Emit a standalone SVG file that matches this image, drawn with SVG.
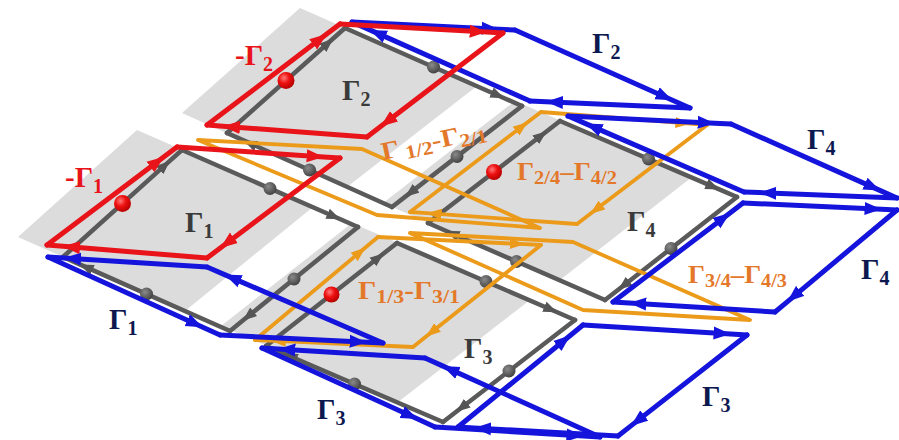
<svg xmlns="http://www.w3.org/2000/svg" width="899" height="440" viewBox="0 0 899 440">
<defs>
<style>
.bg{fill:#dcdcdc;stroke:none}
.g{stroke:#5a5a5a;stroke-width:4.5;fill:none;stroke-linecap:round;marker-mid:url(#ag)}
.r{stroke:#e8141a;stroke-width:5;fill:none;stroke-linecap:round;marker-mid:url(#ar)}
.b{stroke:#1414dc;stroke-width:5;fill:none;stroke-linecap:round;marker-mid:url(#ab)}
.o{stroke:#eb9a1a;stroke-width:3.8;fill:none;stroke-linecap:round;stroke-linejoin:round;marker-mid:url(#ao)}
.on{stroke:#eb9a1a;stroke-width:3.8;fill:none;stroke-linejoin:round}
.gd{fill:url(#gg)}
.rd{fill:url(#rg)}
text{font-family:"Liberation Serif","Times New Roman",serif;font-weight:bold}
.t{font-size:29px}
.s{font-size:20px}
.lo{fill:#e4782a;font-size:25px}
.lo .s{font-size:19px}
.lr{fill:#e8141a}
.lg{fill:#3a3a3a}
.ln{fill:#0c1850}
</style>
<marker id="ag" markerUnits="userSpaceOnUse" markerWidth="15" markerHeight="12" refX="14" refY="6" orient="auto"><path d="M0,0.5 L14,6 L0,11.5 z" fill="#555"/></marker>
<marker id="ar" markerUnits="userSpaceOnUse" markerWidth="18" markerHeight="14" refX="17" refY="7" orient="auto"><path d="M0,0.5 L17,7 L0,13.5 z" fill="#e8141a"/></marker>
<marker id="ab" markerUnits="userSpaceOnUse" markerWidth="18" markerHeight="14" refX="17" refY="7" orient="auto"><path d="M0,0.5 L17,7 L0,13.5 z" fill="#1414dc"/></marker>
<marker id="ao" markerUnits="userSpaceOnUse" markerWidth="16" markerHeight="12" refX="15" refY="6" orient="auto"><path d="M0,0.5 L15,6 L0,11.5 z" fill="#eb9a1a"/></marker>
<radialGradient id="rg" cx="0.38" cy="0.35" r="0.7"><stop offset="0" stop-color="#ff7a7a"/><stop offset="0.45" stop-color="#ee1010"/><stop offset="1" stop-color="#b00000"/></radialGradient>
<radialGradient id="gg" cx="0.38" cy="0.35" r="0.7"><stop offset="0" stop-color="#8a8a8a"/><stop offset="1" stop-color="#3e3e3e"/></radialGradient>
</defs>

<g id="backgrounds">
<polygon class="bg" points="18,237 137,130 313,207 185,311"/>
<polygon class="bg" points="182,113 300,8 477,86 347,187"/>
<polygon class="bg" points="221,326 352,223 530,300 398,402"/>
<polygon class="bg" points="383,203 515,101 692,177 560,280"/>
</g>

<g id="plaquette-1">
<path class="g" d="M63 257L170.1 160.7L182 150"/>
<path class="g" d="M182 150L340.4 219.3L358 227"/>
<path class="g" d="M358 227L242.8 320.6L230 331"/>
<path class="g" d="M230 331L79.7 264.4L63 257"/>
<circle class="gd" cx="270" cy="188.5" r="6.5"/><circle class="gd" cx="294" cy="279" r="6.5"/><circle class="gd" cx="146.5" cy="294" r="6.5"/>
<text class="t lg" x="185" y="232">Γ<tspan class="s" dy="6">1</tspan></text>
</g>
<g id="plaquette-2">
<path class="g" d="M227 133L333.2 38.5L345 28"/>
<path class="g" d="M345 28L504.3 98.2L522 106"/>
<path class="g" d="M522 106L405 196.9L392 207"/>
<path class="g" d="M392 207L243.5 140.4L227 133"/>
<circle class="gd" cx="433.5" cy="67" r="6.5"/><circle class="gd" cx="457" cy="156.5" r="6.5"/><circle class="gd" cx="309.5" cy="170" r="6.5"/>
<text class="t lg" x="342" y="100">Γ<tspan class="s" dy="6">2</tspan></text>
</g>
<g id="plaquette-3">
<path class="g" d="M266 346L383.9 253.3L397 243"/>
<path class="g" d="M397 243L557.2 312.3L575 320"/>
<path class="g" d="M575 320L456.2 411.8L443 422"/>
<path class="g" d="M443 422L283.7 353.6L266 346"/>
<circle class="gd" cx="486" cy="281.5" r="6.5"/><circle class="gd" cx="509" cy="371" r="6.5"/><circle class="gd" cx="354.5" cy="384" r="6.5"/>
<text class="t lg" x="464" y="358">Γ<tspan class="s" dy="6">3</tspan></text>
</g>
<g id="plaquette-4">
<path class="g" d="M428 223L546.8 131.2L560 121"/>
<path class="g" d="M560 121L719.3 189.4L737 197"/>
<path class="g" d="M737 197L618.2 289.7L605 300"/>
<path class="g" d="M605 300L445.7 230.7L428 223"/>
<circle class="gd" cx="648.5" cy="159" r="6.5"/><circle class="gd" cx="671" cy="248.5" r="6.5"/><circle class="gd" cx="516.5" cy="261.5" r="6.5"/>
<text class="t lg" x="627" y="231">Γ<tspan class="s" dy="6">4</tspan></text>
</g>

<g id="connectors">
<g id="loop-o12">
<path class="on" d="M198 140L362 149L540 228L377 215Z"/>
</g>
<g id="loop-o34">
<path class="on" d="M410 233L573 242L750 320L583 310Z"/>
</g>
<g id="loop-o24">
<path class="o" d="M410 212L527.9 122L541 112"/>
<path class="o" d="M541 112L690.4 123.7L707 125"/>
<path class="o" d="M707 125L590 214.1L577 224"/>
<path class="o" d="M577 224L426.7 213.2L410 212"/>
</g>
<g id="loop-o13">
<path class="o" d="M255 340L365.7 247.3L378 237"/>
<path class="o" d="M378 237L524.7 244.2L541 245"/>
<path class="o" d="M541 245L425.8 336.8L413 347"/>
<path class="o" d="M413 347L270.8 340.7L255 340"/>
</g>

<g id="loop-b1">
<path class="b" d="M48 257L202.8 327.2L220 335"/>
<path class="b" d="M220 335L366.7 342.2L383 343"/>
<path class="b" d="M383 343L224.6 274.6L207 267"/>
<path class="b" d="M207 267L63.9 258L48 257"/>
</g>
<g id="loop-b2">
<path class="b" d="M352 22L498.7 29.2L515 30"/>
<path class="b" d="M515 30L672.5 100.2L690 108"/>
<path class="b" d="M690 108L546 101.7L530 101"/>
<path class="b" d="M530 101L369.8 29.9L352 22"/>
</g>
<g id="loop-b4a">
<path class="b" d="M568 116L714.7 123.2L731 124"/>
<path class="b" d="M731 124L880.4 190.6L897 198"/>
<path class="b" d="M897 198L759.3 192.6L744 192"/>
<path class="b" d="M744 192L585.6 123.6L568 116"/>
</g>
<g id="loop-b4b">
<path class="b" d="M613 302L730 212.9L743 203"/>
<path class="b" d="M743 203L881.6 209.3L897 210"/>
<path class="b" d="M897 210L787.2 301.8L775 312"/>
<path class="b" d="M775 312L629.2 303L613 302"/>
</g>
<g id="loop-b3a">
<path class="b" d="M262 348L417.7 419.1L435 427"/>
<path class="b" d="M435 427L583.5 436L600 437"/>
<path class="b" d="M600 437L442.5 365.9L425 358"/>
<path class="b" d="M425 358L278.3 349L262 348"/>
</g>
<g id="loop-b3b">
<path class="b" d="M458 427L570.5 335.2L583 325"/>
<path class="b" d="M583 325L730.6 334L747 335"/>
<path class="b" d="M747 335L630.9 425.9L618 436"/>
<path class="b" d="M618 436L474 427.9L458 427"/>
</g>

<g id="loop-r2">
<path class="r" d="M207 125L326.7 34.1L340 24"/>
<path class="r" d="M340 24L486.7 32.1L503 33"/>
<path class="r" d="M503 33L380.6 126.6L367 137"/>
<path class="r" d="M367 137L223 126.2L207 125"/>
</g>
<g id="loop-r1">
<path class="r" d="M47 245L164 156.8L177 147"/>
<path class="r" d="M177 147L323.7 156.9L340 158"/>
<path class="r" d="M340 158L220.3 248L207 258"/>
<path class="r" d="M207 258L63 246.3L47 245"/>
</g>
</g>

<g id="red-dots">
<circle class="rd" cx="122.5" cy="203.5" r="8.5"/>
<circle class="rd" cx="286" cy="80.5" r="8.5"/>
<circle class="rd" cx="331.5" cy="294.5" r="8"/>
<circle class="rd" cx="494" cy="172" r="8"/>
</g>

<g id="labels">
<text class="t lr" x="235" y="65">-Γ<tspan class="s" dy="6">2</tspan></text>
<text class="t lr" x="65" y="187">-Γ<tspan class="s" dy="6">1</tspan></text>
<text class="t ln" x="109" y="329">Γ<tspan class="s" dy="6">1</tspan></text>
<text class="t ln" x="592" y="53">Γ<tspan class="s" dy="6">2</tspan></text>
<text class="t ln" x="807" y="149">Γ<tspan class="s" dy="6">4</tspan></text>
<text class="t ln" x="861" y="279">Γ<tspan class="s" dy="6">4</tspan></text>
<text class="t ln" x="317" y="419">Γ<tspan class="s" dy="6">3</tspan></text>
<text class="t ln" x="702" y="406">Γ<tspan class="s" dy="6">3</tspan></text>
<text class="lo" x="383" y="160" transform="rotate(-12 383 160)" textLength="107" lengthAdjust="spacingAndGlyphs">Γ<tspan class="s" dy="4"> 1/2</tspan><tspan dy="-4">-Γ</tspan><tspan class="s" dy="4">2/1</tspan></text>
<text class="lo" x="517" y="180" textLength="100" lengthAdjust="spacingAndGlyphs">Γ<tspan class="s" dy="4">2/4</tspan><tspan dy="-4">–Γ</tspan><tspan class="s" dy="4">4/2</tspan></text>
<text class="lo" x="358" y="299" textLength="102" lengthAdjust="spacingAndGlyphs">Γ<tspan class="s" dy="4">1/3</tspan><tspan dy="-4">-Γ</tspan><tspan class="s" dy="4">3/1</tspan></text>
<text class="lo" x="688" y="283" textLength="99" lengthAdjust="spacingAndGlyphs">Γ<tspan class="s" dy="4">3/4</tspan><tspan dy="-4">–Γ</tspan><tspan class="s" dy="4">4/3</tspan></text>
</g>
</svg>
